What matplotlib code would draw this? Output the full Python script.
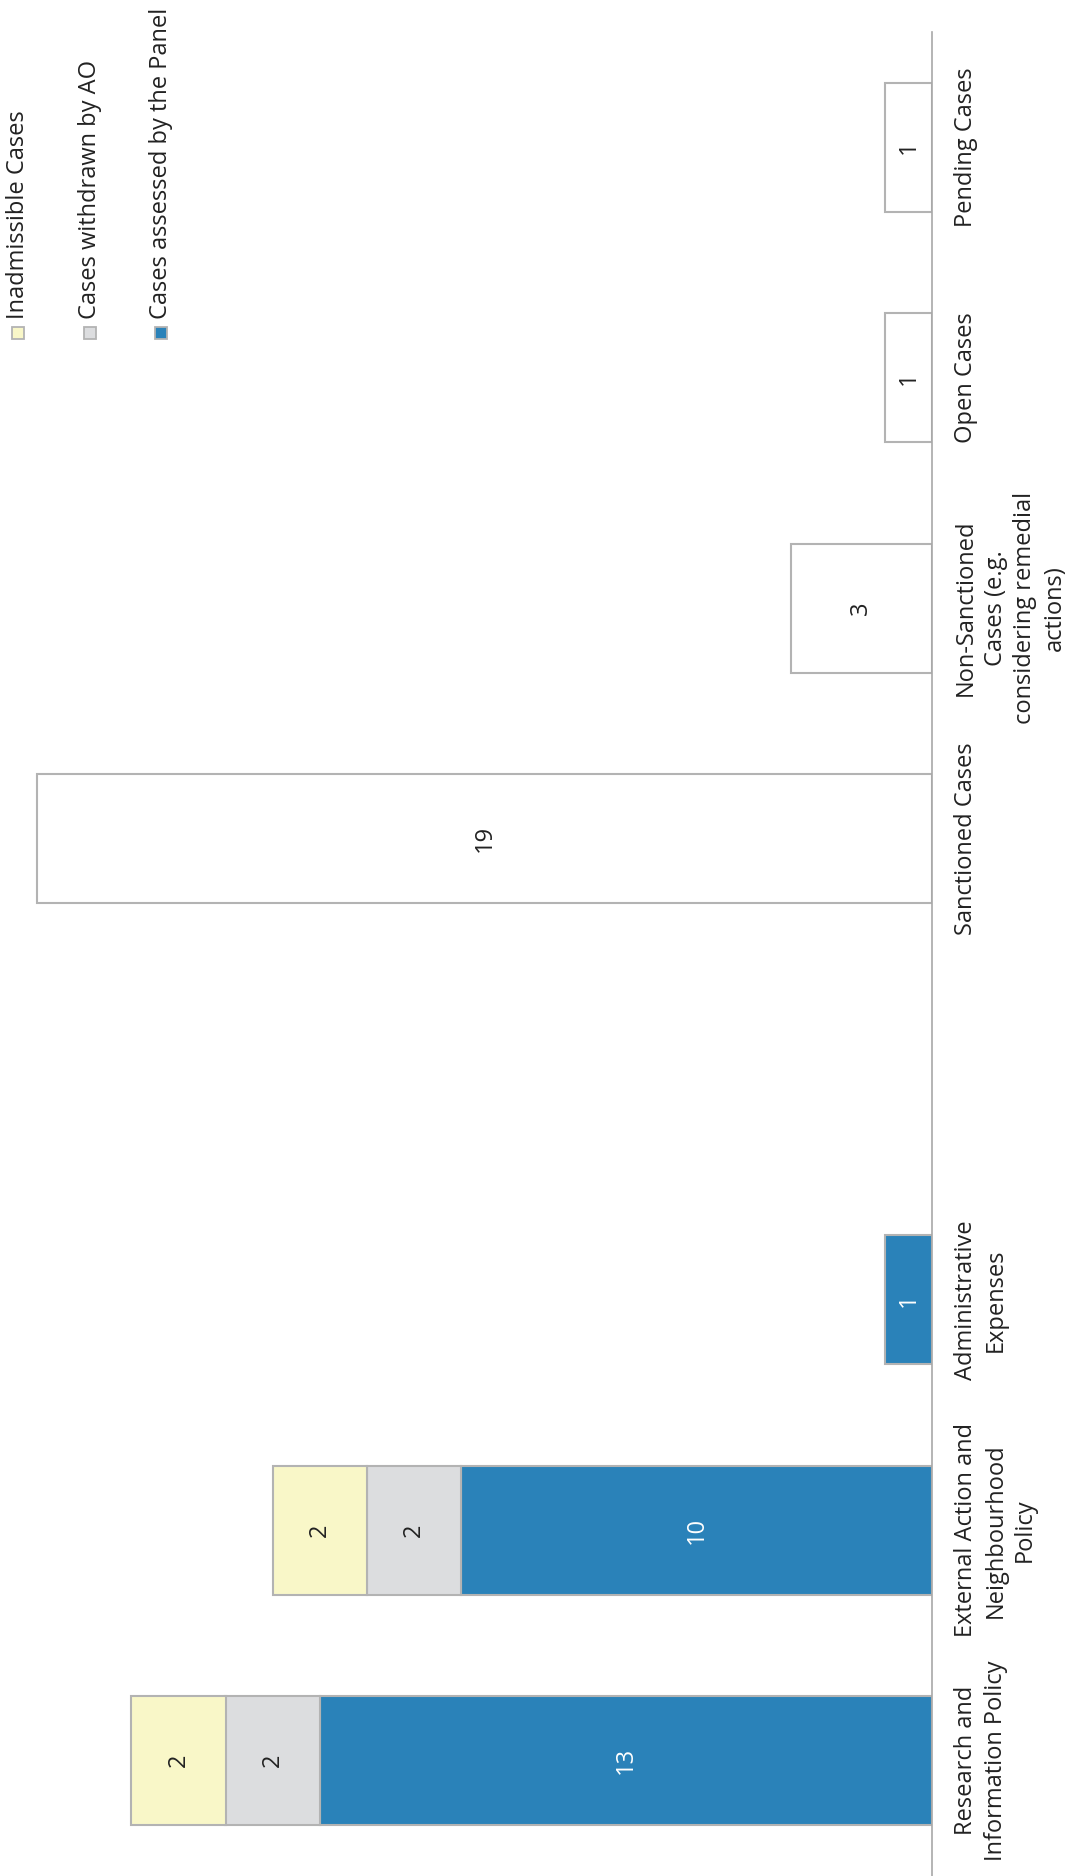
import matplotlib
matplotlib.use("Agg")
import matplotlib.pyplot as plt
from matplotlib.patches import Rectangle

categories = ["Research and\nInformation Policy",
              "External Action and\nNeighbourhood\nPolicy",
              "Administrative\nExpenses",
              "",
              "Sanctioned Cases",
              "Non-Sanctioned\nCases (e.g.\nconsidering remedial\nactions)",
              "Open Cases",
              "Pending Cases"]
assessed = [13, 10, 1, 0, 0, 0, 0, 0]
withdrawn = [2, 2, 0, 0, 0, 0, 0, 0]
inadmissible = [2, 2, 0, 0, 0, 0, 0, 0]
outcomes = [0, 0, 0, 0, 19, 3, 1, 1]
legend_labels = ["Inadmissible Cases", "Cases withdrawn by AO", "Cases assessed by the Panel"]

BLUE = "#2A82B9"
GREY = "#DCDDDF"
YELLOW = "#F9F7C8"
EDGE = "#B3B3B3"
FONT = "Open Sans"
FS = 17
NFS = 17

W, H = 1072, 1876
fig = plt.figure(figsize=(W / 100, H / 100), dpi=100)
axis_x = 932
px_per_unit = 47.1
top = 32
ax = fig.add_axes([0, 0, axis_x / W, (H - top) / H])
ax.set_xlim(axis_x / px_per_unit, 0)
ax.set_ylim(-0.5, len(categories) - 0.5)
for s in ["left", "top", "bottom"]:
    ax.spines[s].set_visible(False)
ax.spines["right"].set_color("#A8A8A8")
ax.spines["right"].set_linewidth(1.2)
ax.spines["right"].set_zorder(5)
ax.set_xticks([])
ax.set_yticks([])

bw = 0.56

def stack(vals, lefts, color, txtcolor):
    idx = [i for i, v in enumerate(vals) if v > 0]
    ax.barh(idx, [vals[i] for i in idx], left=[lefts[i] for i in idx], height=bw,
            color=color, edgecolor=EDGE, linewidth=1.5, zorder=2)
    for i in idx:
        ax.text(lefts[i] + vals[i] / 2, i, str(vals[i]), rotation=90, ha="center",
                va="center", color=txtcolor, fontsize=NFS, family=FONT, zorder=3)

zeros = [0] * len(categories)
left2 = list(assessed)
left3 = [a + w for a, w in zip(assessed, withdrawn)]
stack(assessed, zeros, BLUE, "white")
stack(withdrawn, left2, GREY, "#222222")
stack(inadmissible, left3, YELLOW, "#222222")
stack(outcomes, zeros, "white", "#222222")

for i, c in enumerate(categories):
    if c:
        ax.annotate(c, xy=(0, i), xycoords="data", xytext=(16, 0), textcoords="offset points",
                    rotation=90, ha="left", va="center", multialignment="center",
                    fontsize=FS, family=FONT, color="#222222", linespacing=1.3,
                    annotation_clip=False)

# legend
colors = [YELLOW, GREY, BLUE]
xs = [18, 90, 161]
for xc, col, lab in zip(xs, colors, legend_labels):
    fig.patches.append(Rectangle(((xc - 6) / W, 1 - 339 / H), 12 / W, 12 / H,
                                 transform=fig.transFigure, facecolor=col,
                                 edgecolor=EDGE, linewidth=1.3))
    fig.text(xc / W, 1 - 319 / H, lab, rotation=90, ha="center", va="bottom",
             fontsize=FS, family=FONT, color="#222222")

fig.savefig("out.png", dpi=100)
